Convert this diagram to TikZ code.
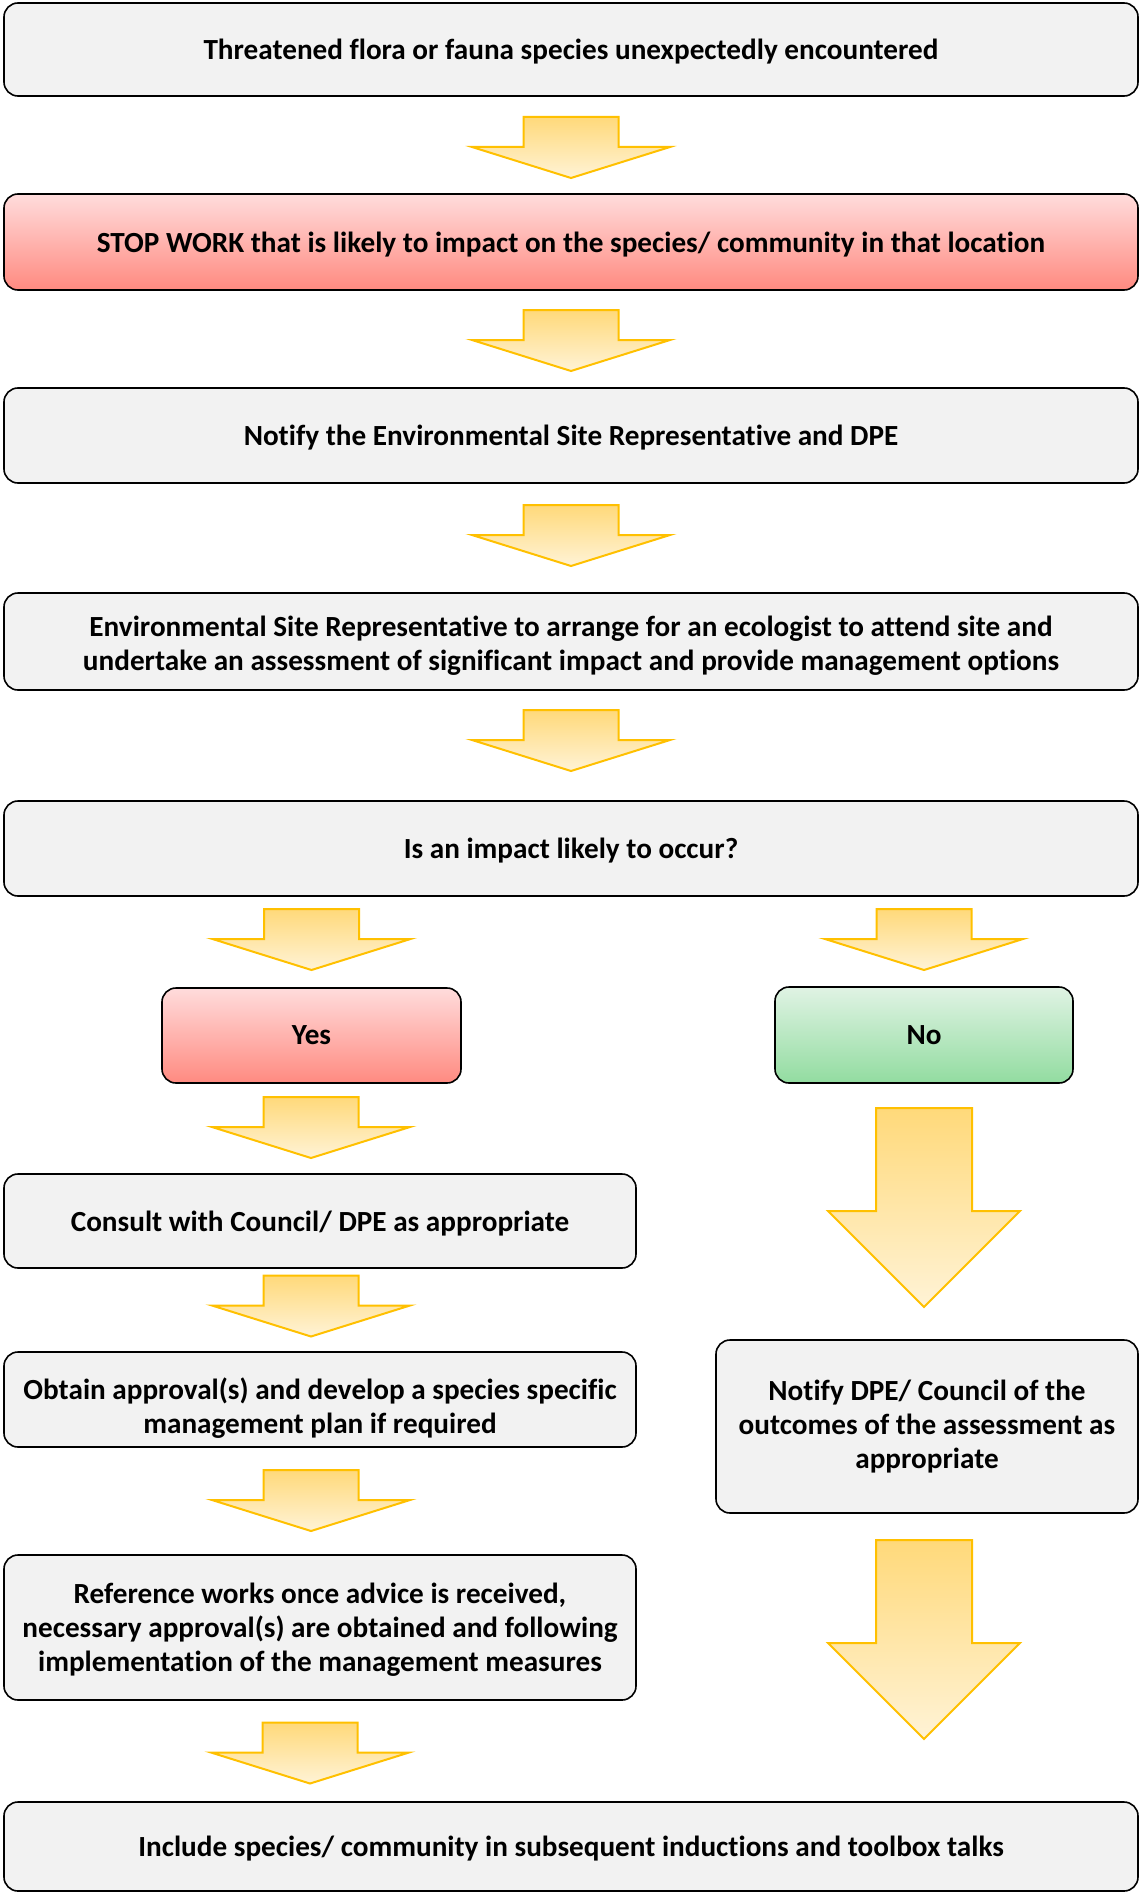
\documentclass[tikz,border=0pt]{standalone}
\usepackage{fontspec}
\setmainfont{Carlito}[Ligatures=NoCommon]
\usetikzlibrary{calc}
\definecolor{boxgrey}{HTML}{F2F2F2}
\definecolor{redtop}{RGB}{255,220,220}
\definecolor{redbot}{RGB}{255,138,128}
\definecolor{greentop}{RGB}{224,243,228}
\definecolor{greenbot}{RGB}{146,220,160}
\definecolor{arrtop}{RGB}{255,217,122}
\definecolor{arrbot}{RGB}{255,243,214}
\definecolor{arrline}{RGB}{255,192,0}
\begin{document}
\begin{tikzpicture}[x=0.5pt,y=-0.5pt,
  boxtext/.style={align=center, inner sep=0pt, text=black,
    font=\bfseries\fontsize{14.6}{16.9}\selectfont},
  box/.style={boxtext, draw=black, line width=0.8pt, rounded corners=7pt, fill=boxgrey},
  oneline/.style={box, text depth=0pt},
  redbox/.style={top color=redtop, bottom color=redbot},
  greenbox/.style={box, top color=greentop, bottom color=greenbot},
  arr/.style={draw=arrline, line width=1pt, top color=arrtop, bottom color=arrbot},
  smallarrow/.pic={\path[arr] (-47.5,-31) -- (47.5,-31) -- (47.5,-1) -- (99,-1)
     -- (0,30) -- (-99,-1) -- (-47.5,-1) -- cycle;},
  bigarrow/.pic={\path[arr] (-48,-99.5) -- (48,-99.5) -- (48,3.5) -- (96,3.5)
     -- (0,99.5) -- (-96,3.5) -- (-48,3.5) -- cycle;}
]
\useasboundingbox (0,0) rectangle (1140,1894);

\node[oneline, minimum width=567pt, minimum height=46.5pt] (n1) at (571,49.5)
  {Threatened flora or fauna species unexpectedly encountered};
\node[oneline, redbox, minimum width=567pt, minimum height=48pt] (n2) at (571,242)
  {STOP WORK that is likely to impact on the species/ community in that location};
\node[oneline, minimum width=567pt, minimum height=47.5pt] (n3) at (571,435.5)
  {Notify the Environmental Site Representative and DPE};
\node[box, minimum width=567pt, minimum height=48.5pt,
  label={[boxtext, yshift=-2.1pt]center:{Environmental Site Representative to arrange for an ecologist to attend site and\\
   undertake an assessment of significant impact and provide management options}}] (n4) at (571,641.5) {};
\node[oneline, minimum width=567pt, minimum height=47.5pt] (n5) at (571,848.5)
  {Is an impact likely to occur?};
\node[box, redbox, minimum width=149.5pt, minimum height=47.5pt] (yes) at (311.5,1035.5) {Yes};
\node[greenbox, minimum width=149pt, minimum height=48pt] (no) at (924,1035) {No};
\node[oneline, minimum width=316pt, minimum height=47pt] (consult) at (320,1221)
  {Consult with Council/ DPE as appropriate};
\node[box, minimum width=316pt, minimum height=47.5pt,
  label={[boxtext, yshift=-4.5pt]center:{Obtain approval(s) and develop a species specific\\management plan if required}}] (obtain) at (320,1399.5) {};
\node[box, text depth=0.5pt, minimum width=316pt, minimum height=72.5pt] (ref) at (320,1627.5)
  {Reference works once advice is received,\\necessary approval(s) are obtained and following\\implementation of the management measures};
\node[box, minimum width=211pt, minimum height=86.5pt] (notify) at (927,1426.5)
  {Notify DPE/ Council of the\\outcomes of the assessment as\\appropriate};
\node[oneline, minimum width=567pt, minimum height=44.5pt] (fin) at (571,1846.5)
  {Include species/ community in subsequent inductions and toolbox talks};

\pic at (571,148) {smallarrow};
\pic at (571,341) {smallarrow};
\pic at (571,536) {smallarrow};
\pic at (571,741) {smallarrow};
\pic at (311.5,940) {smallarrow};
\pic at (924,940) {smallarrow};
\pic at (311,1128) {smallarrow};
\pic at (311,1306.5) {smallarrow};
\pic at (311,1501) {smallarrow};
\pic at (310,1753.5) {smallarrow};
\pic at (924,1207.5) {bigarrow};
\pic at (924,1639.5) {bigarrow};
\end{tikzpicture}
\end{document}
